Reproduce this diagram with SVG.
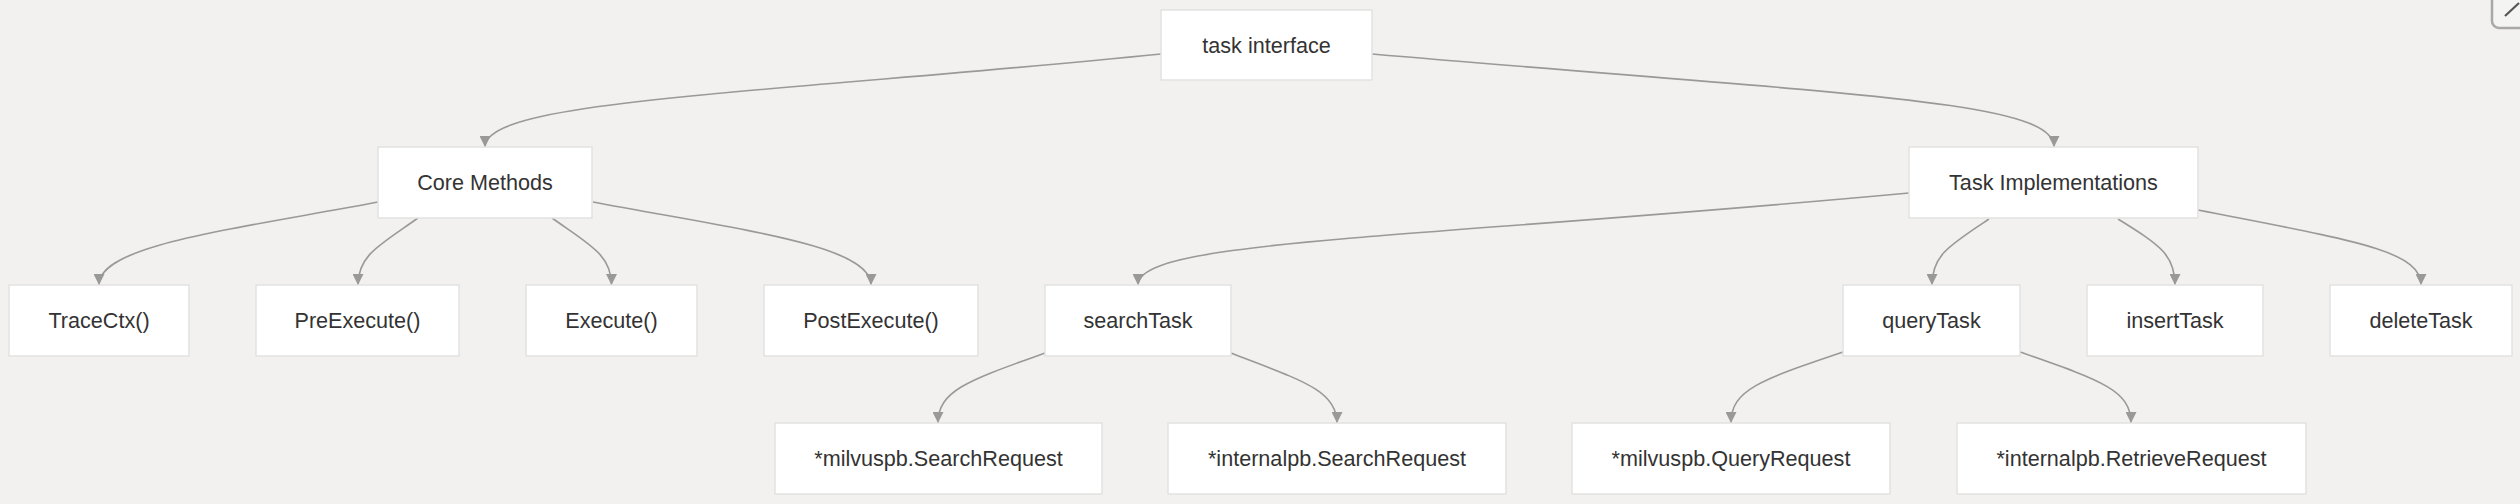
<svg xmlns="http://www.w3.org/2000/svg" width="2520" height="504" viewBox="0 0 2520 504">
<style>
.n rect{fill:#ffffff;stroke:#e2e2e2;stroke-width:1.5}
.n text{font-family:"Liberation Sans",Arial,sans-serif;font-size:21.6px;fill:#333333;text-anchor:middle;dominant-baseline:central}
.e path{fill:none;stroke:#999999;stroke-width:1.6;marker-end:url(#arr)}
</style>
<defs>
<marker id="arr" viewBox="0 0 10 10" refX="10" refY="5" markerWidth="11" markerHeight="11" markerUnits="userSpaceOnUse" orient="auto">
<path d="M0,0 L10,5 L0,10 z" fill="#999999"/>
</marker>
</defs>
<rect x="0" y="0" width="2520" height="504" fill="#f2f1ef"/>
<g id="icon">
<rect x="2492" y="-20" width="50" height="48" rx="7" fill="#f4f4f3" stroke="#a8a8a8" stroke-width="2.5"/>
<line x1="2505" y1="16" x2="2519" y2="3" stroke="#555555" stroke-width="2.2"/>
</g>
<g class="e" id="edges">
<path d="M1161,54 C750,95 485,100 485,147"/>
<path d="M1372,54 C1850,95 2054,100 2054,147"/>
<path d="M378,202 C230,230 99,245 99,285"/>
<path d="M418,218 C380,245 358,255 358,285"/>
<path d="M552,218 C590,245 611.5,255 611.5,285"/>
<path d="M593,202 C740,230 871,245 871,285"/>
<path d="M1909,193 C1400,240 1138,240 1138,285"/>
<path d="M1989,219 C1950,245 1932,255 1932,285"/>
<path d="M2118,219 C2160,245 2175,255 2175,285"/>
<path d="M2198,210 C2350,240 2421,250 2421,285"/>
<path d="M1045,353 C970,380 938,390 938,423"/>
<path d="M1231,353 C1300,380 1337,390 1337,423"/>
<path d="M1843,352 C1760,380 1731,390 1731,423"/>
<path d="M2020,352 C2100,380 2131,390 2131,423"/>
</g>
<g class="n" id="taskInterface"><rect x="1161" y="10" width="211" height="70"/><text x="1266.5" y="45">task interface</text></g>
<g class="n" id="coreMethods"><rect x="378" y="147" width="214" height="71"/><text x="485" y="182.5">Core Methods</text></g>
<g class="n" id="taskImpl"><rect x="1909" y="147" width="289" height="71"/><text x="2053.5" y="182.5">Task Implementations</text></g>
<g class="n" id="traceCtx"><rect x="9" y="285" width="180" height="71"/><text x="99" y="320.5">TraceCtx()</text></g>
<g class="n" id="preExecute"><rect x="256" y="285" width="203" height="71"/><text x="357.5" y="320.5">PreExecute()</text></g>
<g class="n" id="execute"><rect x="526" y="285" width="171" height="71"/><text x="611.5" y="320.5">Execute()</text></g>
<g class="n" id="postExecute"><rect x="764" y="285" width="214" height="71"/><text x="871" y="320.5">PostExecute()</text></g>
<g class="n" id="searchTask"><rect x="1045" y="285" width="186" height="71"/><text x="1138" y="320.5">searchTask</text></g>
<g class="n" id="queryTask"><rect x="1843" y="285" width="177" height="71"/><text x="1931.5" y="320.5">queryTask</text></g>
<g class="n" id="insertTask"><rect x="2087" y="285" width="176" height="71"/><text x="2175" y="320.5">insertTask</text></g>
<g class="n" id="deleteTask"><rect x="2330" y="285" width="182" height="71"/><text x="2421" y="320.5">deleteTask</text></g>
<g class="n" id="milvusSearch"><rect x="775" y="423" width="327" height="71"/><text x="938.5" y="458.5">*milvuspb.SearchRequest</text></g>
<g class="n" id="internalSearch"><rect x="1168" y="423" width="338" height="71"/><text x="1337" y="458.5">*internalpb.SearchRequest</text></g>
<g class="n" id="milvusQuery"><rect x="1572" y="423" width="318" height="71"/><text x="1731" y="458.5">*milvuspb.QueryRequest</text></g>
<g class="n" id="internalRetrieve"><rect x="1957" y="423" width="349" height="71"/><text x="2131.5" y="458.5">*internalpb.RetrieveRequest</text></g>
</svg>
